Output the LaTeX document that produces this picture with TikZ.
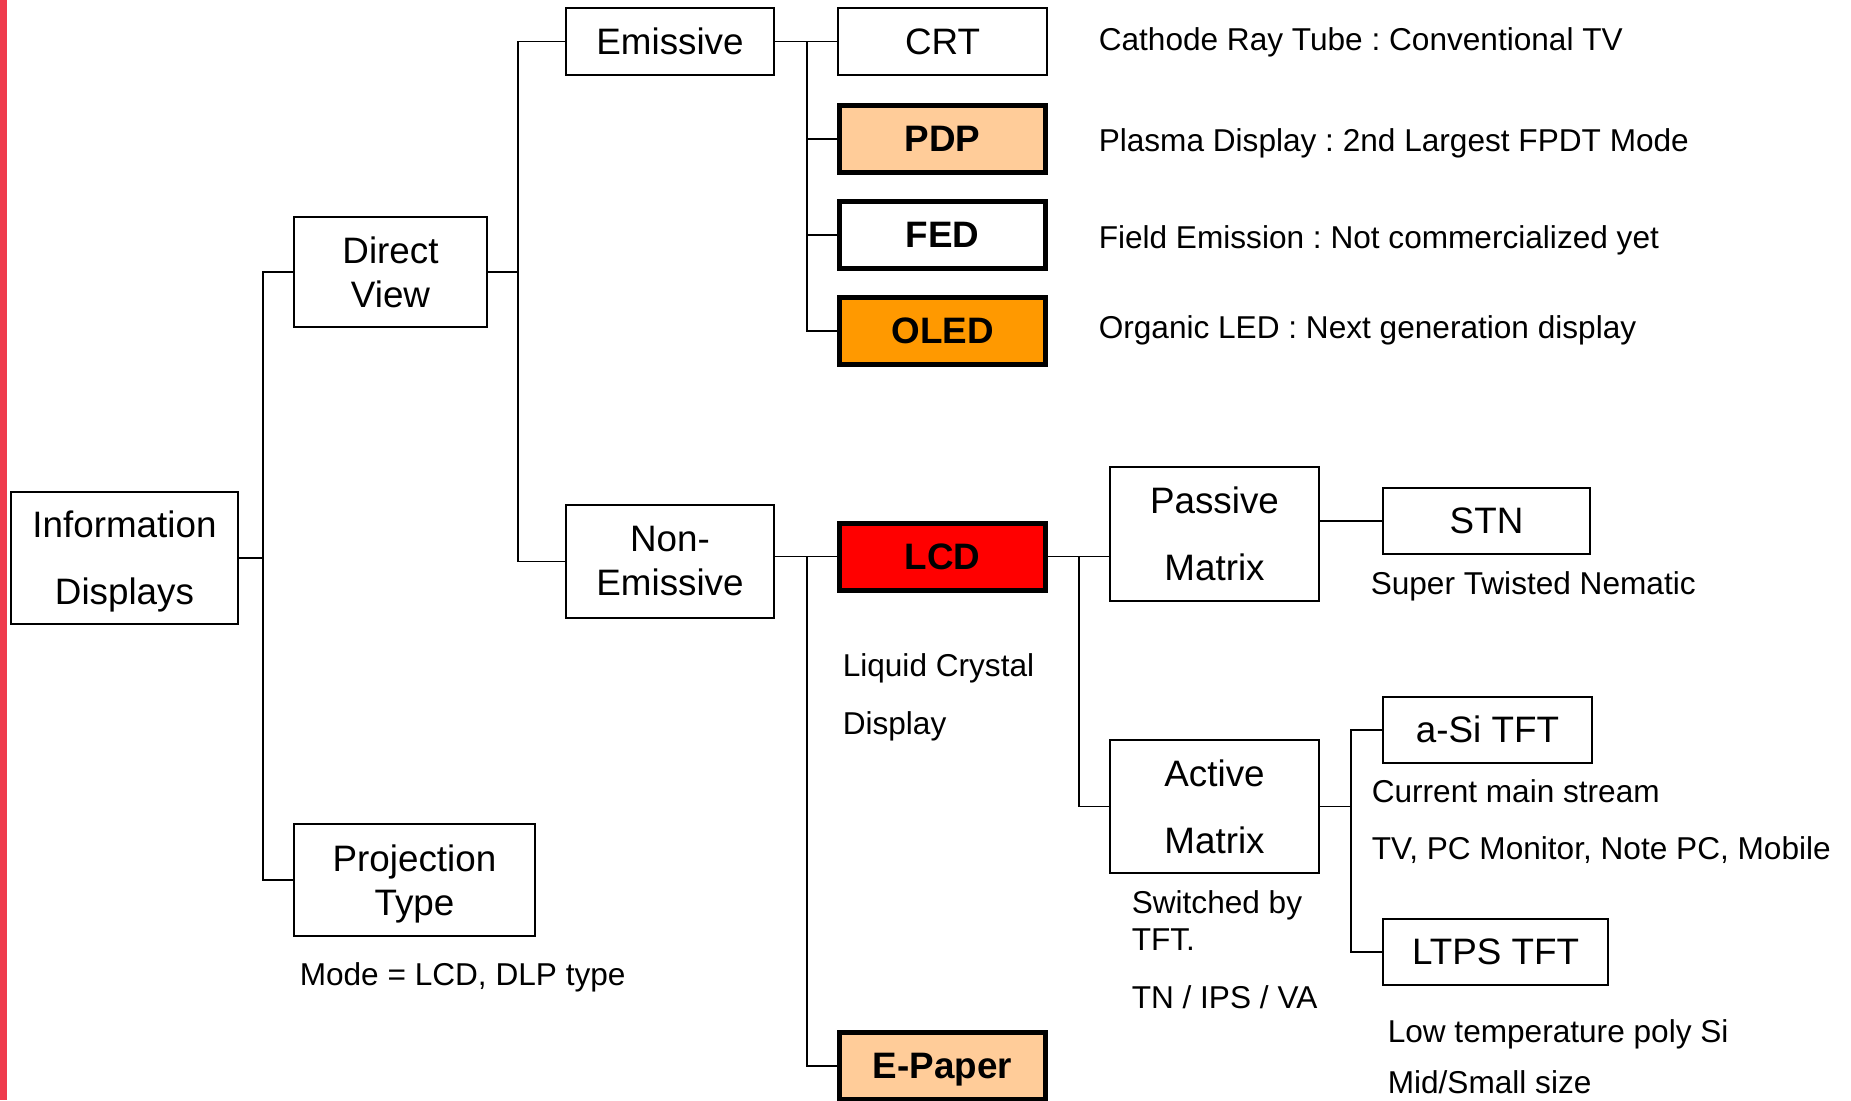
\documentclass[tikz,border=0pt]{standalone}
\usepackage{fontspec}
\setmainfont{Liberation Sans}
\definecolor{barred}{RGB}{239,59,77}
\definecolor{peach}{RGB}{255,204,153}
\definecolor{amber}{RGB}{255,153,0}
\definecolor{lcdred}{RGB}{255,0,0}
\frenchspacing

\begin{document}
\begin{tikzpicture}[x=0.5pt, y=-0.5pt, line width=0.75pt,
    box/.style = {draw, inner sep=0pt, align=center, font=\fontsize{18.4}{22}\selectfont},
    widebox/.style = {box, font=\fontsize{18.4}{33.5}\selectfont},
    onebox/.style = {box, text height=16.6pt, text depth=3.9pt},
    thickbox/.style = {onebox, line width=2.5pt, minimum width=103pt, minimum height=33.5pt,
                       font=\fontsize{18.4}{22}\selectfont\bfseries},
    note/.style = {anchor=base west, inner sep=0pt, font=\fontsize{15.8}{19}\selectfont}]
    \useasboundingbox (0,0) rectangle (1851,1100);
    \clip (0,0) rectangle (1851,1100);

    % Red edge
    \fill[barred] (0,0) rectangle (7,1100);

    % Root and first level
    \node[widebox, minimum width=113.5pt, minimum height=66pt] (info) at (124.5,558) {Information\\\smash{Displays}};
    \node[box, minimum width=96.5pt, minimum height=55pt] (direct) at (390.5,272) {Direct\\View};
    \node[box, minimum width=120.5pt, minimum height=56pt] (proj) at (414.5,880) {Projection\\\smash{Type}};
    \node[note] (mode) at (299,985) {Mode = LCD, DLP type};

    % Emissive / Non-Emissive
    \node[onebox, minimum width=104pt, minimum height=33.5pt] (emis) at (670,41.5) {Emissive};
    \node[box, minimum width=104pt, minimum height=56.5pt] (nonemis) at (670,561.5) {Non-\\Emissive};

    % Emissive types
    \node[onebox, minimum width=104.5pt, minimum height=33.5pt] (crt) at (942.5,41.5) {CRT};
    \node[thickbox, fill=peach] (pdp) at (942.5,139) {PDP};
    \node[thickbox, fill=white] (fed) at (942.5,235) {FED};
    \node[thickbox, fill=amber] (oled) at (942.5,331) {OLED};

    \node[note] (crtnote) at (1098,50) {Cathode Ray Tube : Conventional TV};
    \node[note] (pdpnote) at (1098,151) {Plasma Display : 2nd Largest FPDT Mode};
    \node[note] (fednote) at (1098,248) {Field Emission : Not commercialized yet};
    \node[note] (olednote) at (1098,338) {Organic LED : Next generation display};

    % Non-Emissive types
    \node[thickbox, fill=lcdred] (lcd) at (942.5,556.5) {LCD};
    \node[thickbox, fill=peach] (epaper) at (942.5,1066) {E-Paper};
    \node[note] (lcdnote1) at (842,676) {Liquid Crystal};
    \node[note] (lcdnote2) at (842,734) {Display};

    % LCD matrix types
    \node[widebox, minimum width=104.5pt, minimum height=67pt] (passive) at (1214.5,534) {Passive\\Matrix};
    \node[widebox, minimum width=104.5pt, minimum height=66.5pt] (active) at (1214.5,806.5) {Active\\Matrix};
    \node[note] (actnote1) at (1131,913) {Switched by};
    \node[note] (actnote2) at (1131,950) {TFT.};
    \node[note] (actnote3) at (1131,1008) {TN / IPS / VA};

    \node[onebox, minimum width=103.5pt, minimum height=33pt] (stn) at (1486.5,521) {STN};
    \node[note] (stnnote) at (1370,594) {Super Twisted Nematic};

    \node[onebox, minimum width=104.5pt, minimum height=33pt] (asi) at (1487.5,730) {a-Si TFT};
    \node[note] (asinote1) at (1371,802) {Current main stream};
    \node[note] (asinote2) at (1371,859) {TV, PC Monitor, Note PC, Mobile};

    \node[onebox, minimum width=112.5pt, minimum height=33pt] (ltps) at (1495.5,952) {LTPS TFT};
    \node[note] (ltpsnote1) at (1387,1042) {Low temperature poly Si};
    \node[note] (ltpsnote2) at (1387,1093) {Mid/Small size};

    % Tree trunks
    \coordinate (t1) at (263,0);
    \coordinate (t2) at (518,0);
    \coordinate (t3) at (807,0);
    \coordinate (t5) at (1079,0);
    \coordinate (t6) at (1351,0);

    \draw (info.east) -- (info.east -| t1);
    \draw (direct.west) -- (direct.west -| t1) -- (proj.west -| t1) -- (proj.west);

    \draw (direct.east) -- (direct.east -| t2);
    \draw (emis.west) -- (emis.west -| t2) -- (nonemis.west -| t2) -- (nonemis.west);

    \draw (emis.east) -- (crt.west);
    \draw (emis.east -| t3) -- (oled.west -| t3) -- (oled.west);
    \foreach \n in {pdp,fed}
        \draw (\n.west -| t3) -- (\n.west);

    \draw (lcd.west -| nonemis.east) -- (lcd.west);
    \draw (lcd.west -| t3) -- (epaper.west -| t3) -- (epaper.west);

    \draw (lcd.east) -- (lcd.east -| passive.west);
    \draw (lcd.east -| t5) -- (active.west -| t5) -- (active.west);
    \draw (stn.west -| passive.east) -- (stn.west);

    \draw (active.east) -- (active.east -| t6);
    \draw (asi.west) -- (asi.west -| t6) -- (ltps.west -| t6) -- (ltps.west);
\end{tikzpicture}
\end{document}
